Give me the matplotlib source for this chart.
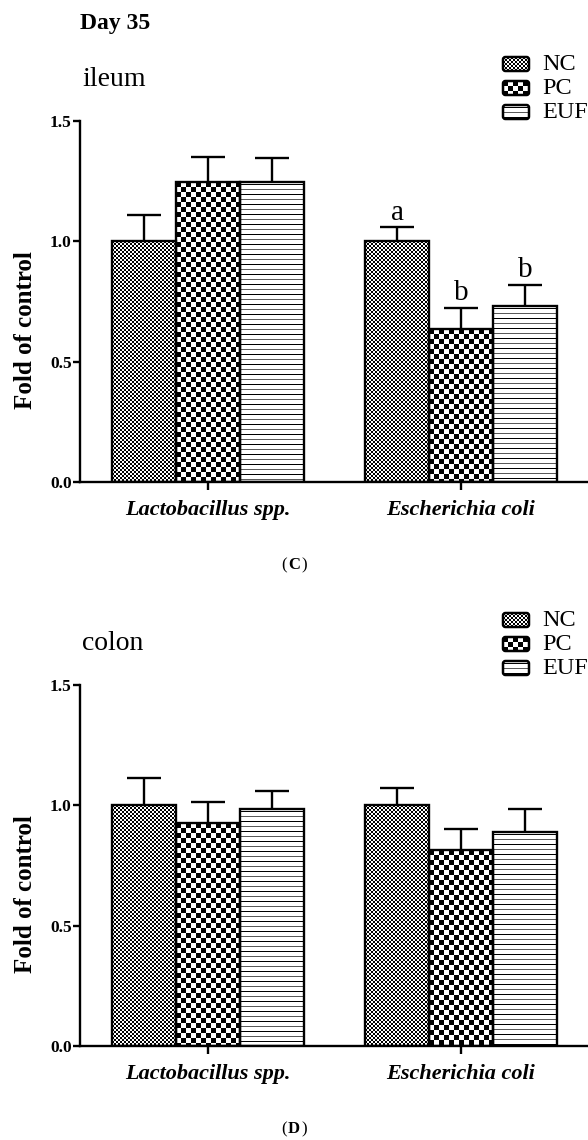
import numpy as np
import matplotlib
matplotlib.use('Agg')
import matplotlib.pyplot as plt
from matplotlib.patches import FancyBboxPatch
from matplotlib.transforms import IdentityTransform

plt.rcParams['font.family'] = ['Liberation Serif', 'DejaVu Serif']

# ---------------- data ----------------
groups = ['Lactobacillus spp.', 'Escherichia coli']
treatments = ['NC', 'PC', 'EUF']

ileum_nc = [1.00, 1.00]
ileum_pc = [1.245, 0.635]
ileum_euf = [1.245, 0.73]
ileum_nc_err = [0.11, 0.06]
ileum_pc_err = [0.105, 0.09]
ileum_euf_err = [0.10, 0.09]
ileum_nc_sig = ['', 'a']
ileum_pc_sig = ['', 'b']
ileum_euf_sig = ['', 'b']

colon_nc = [1.00, 1.00]
colon_pc = [0.925, 0.815]
colon_euf = [0.985, 0.89]
colon_nc_err = [0.115, 0.07]
colon_pc_err = [0.09, 0.085]
colon_euf_err = [0.075, 0.095]
colon_nc_sig = ['', '']
colon_pc_sig = ['', '']
colon_euf_sig = ['', '']

yticks = [0.0, 0.5, 1.0, 1.5]
ytick_labels = ['0.0', '0.5', '1.0', '1.5']

# ---------------- layout ----------------
W_PX, H_PX = 588, 1140
fig = plt.figure(figsize=(W_PX / 100, H_PX / 100), dpi=100)

AX_LEFT = 80
GROUP_PX = 253.0
G0_PX = 208.0
BAR_W = 64.0 / GROUP_PX


def pattern(kind, h, w):
    yy, xx = np.mgrid[0:h, 0:w]
    if kind == 'NC':
        c = 2
        arr = ((xx // c + yy // c) % 2).astype(float)
    elif kind == 'PC':
        c = 5
        arr = ((xx // c + yy // c) % 2).astype(float)
    else:
        arr = np.ones((h, w))
        arr[(yy % 5) == 2] = 0.0
        arr[(yy % 10) == 7] = 0.35
    return arr


def fill_bar(ax, rect, kind):
    x0, y0 = rect.get_x(), rect.get_y()
    x1, y1 = x0 + rect.get_width(), y0 + rect.get_height()
    p0 = ax.transData.transform((x0, y0))
    p1 = ax.transData.transform((x1, y1))
    px0, py0 = int(round(p0[0])), int(round(p0[1]))
    px1, py1 = int(round(p1[0])), int(round(p1[1]))
    h, w = max(py1 - py0, 1), max(px1 - px0, 1)
    arr = pattern(kind, h, w)
    inv = ax.transData.inverted()
    d0 = inv.transform((px0, py0))
    d1 = inv.transform((px1, py0 + h))
    im = ax.imshow(arr, cmap='gray', vmin=0, vmax=1, origin='upper',
                   extent=(d0[0], d1[0], d0[1], d1[1]),
                   interpolation='nearest', aspect='auto', zorder=2)
    im.set_clip_path(rect)


def make_panel(ax_top_px, ax_bot_px, means, errs, sigs, tissue, letter,
               legend_top, title=None):
    ax = fig.add_axes([AX_LEFT / W_PX, 1 - ax_bot_px / H_PX,
                       (W_PX - AX_LEFT) / W_PX,
                       (ax_bot_px - ax_top_px) / H_PX])
    xleft = -(G0_PX - AX_LEFT) / GROUP_PX
    xright = xleft + (W_PX - AX_LEFT) / GROUP_PX
    ax.set_xlim(xleft, xright)
    ax.set_ylim(0, 1.5)
    x = np.arange(len(groups))
    offsets = [-BAR_W, 0.0, BAR_W]
    for kind, m, e, s, off in zip(treatments, means, errs, sigs, offsets):
        ax.errorbar(x + off, m, yerr=e, fmt='none', ecolor='black',
                    elinewidth=1.7, capsize=12.5, capthick=1.7, zorder=1)
        bars = ax.bar(x + off, m, width=BAR_W, facecolor='none',
                      edgecolor='black', linewidth=1.7, zorder=3)
        for rect in bars.patches:
            fill_bar(ax, rect, kind)
        for xi, mi, ei, si in zip(x + off, m, e, s):
            if si:
                ax.annotate(si, (xi, mi + ei), xytext=(0, 1),
                            textcoords='offset points', ha='center',
                            va='bottom', fontsize=21)
    ax.set_xlim(xleft, xright)
    ax.set_ylim(0, 1.5)
    for sp in ['top', 'right']:
        ax.spines[sp].set_visible(False)
    for sp in ['left', 'bottom']:
        ax.spines[sp].set_linewidth(1.7)
    ax.spines['left'].set_bounds(0, 1.5)
    ax.set_yticks(yticks)
    ax.set_yticklabels(ytick_labels, fontsize=12.5, fontweight='bold')
    ax.set_xticks(x)
    ax.set_xticklabels(groups, fontsize=16, fontweight='bold',
                       fontstyle='italic')
    ax.tick_params(axis='y', length=5, width=1.7, pad=1)
    ax.tick_params(axis='x', length=6, width=1.7, pad=7)
    ax.set_ylabel('Fold of control', fontsize=18, fontweight='bold')
    ax.yaxis.set_label_coords(-(80 - 37) / (W_PX - AX_LEFT), 0.42)

    # panel texts
    fig.text(82 / W_PX, 1 - (ax_top_px - 41) / H_PX, tissue, fontsize=20,
             ha='left', va='center')
    if title:
        fig.text(80 / W_PX, 1 - (ax_top_px - 98) / H_PX, title,
                 fontsize=17, fontweight='bold', ha='left', va='center')
    # letter label
    ly = 1 - (ax_bot_px + 83) / H_PX
    fig.text(0.5, ly, letter, fontsize=12, fontweight='bold',
             ha='center', va='center')
    fig.text(0.5 - 0.012, ly, '(', fontsize=12, ha='right', va='center')
    fig.text(0.5 + 0.012, ly, ')', fontsize=12, ha='left', va='center')

    # legend
    sw_w, sw_h = 26, 14
    for i, kind in enumerate(treatments):
        yc = legend_top + 24 * i
        x0 = 503
        y0 = H_PX - (yc + sw_h / 2)
        arr = pattern(kind, sw_h, sw_w)
        fig.figimage(arr, xo=x0, yo=int(round(y0)), cmap='gray', vmin=0,
                     vmax=1, origin='upper', zorder=5)
        fig.add_artist(FancyBboxPatch(
            (x0, int(round(y0))), sw_w, sw_h,
            boxstyle='round,pad=0,rounding_size=2.5',
            transform=IdentityTransform(), fill=False, edgecolor='black',
            linewidth=1.8, zorder=6))
        fig.text(542 / W_PX, 1 - yc / H_PX, kind, fontsize=17.5,
                 ha='left', va='center')
    return ax


make_panel(121, 482, [ileum_nc, ileum_pc, ileum_euf],
           [ileum_nc_err, ileum_pc_err, ileum_euf_err],
           [ileum_nc_sig, ileum_pc_sig, ileum_euf_sig], 'ileum', 'C',
           legend_top=64, title='Day 35')
make_panel(685, 1046, [colon_nc, colon_pc, colon_euf],
           [colon_nc_err, colon_pc_err, colon_euf_err],
           [colon_nc_sig, colon_pc_sig, colon_euf_sig], 'colon', 'D',
           legend_top=620)

fig.savefig('out.png', dpi=100)
